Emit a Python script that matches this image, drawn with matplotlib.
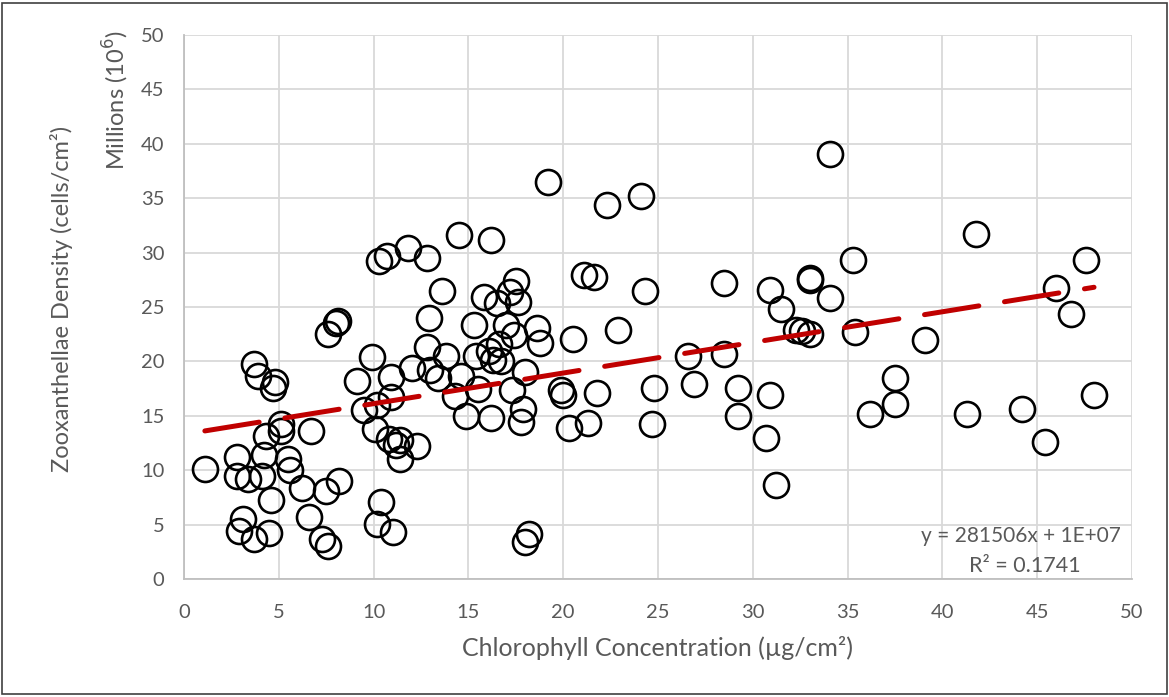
import numpy as np
import matplotlib.pyplot as plt
from matplotlib.patches import Rectangle

# chlorophyll (ug/cm2) and zooxanthellae density (millions of cells/cm2)
chl = [1.1, 2.8, 2.8, 2.9, 3.1, 3.4, 3.7, 3.9, 3.7, 4.1, 4.2, 4.3, 4.5, 4.6, 4.7, 4.8,
       5.1, 5.1, 5.5, 5.6, 6.2, 6.6, 6.7, 7.3, 7.5, 7.6, 7.6, 8.0, 8.1, 8.2, 9.1, 9.5,
       9.9, 10.2, 10.1, 10.3, 10.2, 10.4, 10.7, 10.8, 10.9, 10.9, 11.0, 11.2, 11.4, 11.4,
       11.8, 12.0, 12.3, 12.8, 12.8, 12.9, 13.0, 13.4, 13.6, 13.8, 14.3, 14.5, 14.6, 14.9,
       15.3, 15.4, 15.5, 15.8, 16.2, 16.1, 16.2, 16.3, 16.5, 16.6, 16.7, 17.0, 17.2, 17.3,
       17.4, 17.5, 17.6, 17.8, 17.9, 18.0, 18.0, 18.2, 18.6, 18.8, 19.2, 19.9, 20.0, 20.3,
       20.5, 21.1, 21.3, 21.6, 21.8, 22.3, 22.9, 24.1, 24.3, 24.7, 24.8, 26.6, 26.9, 28.5,
       28.5, 29.2, 29.2, 30.7, 30.9, 30.9, 31.2, 31.5, 32.3, 32.6, 33.0, 33.0, 33.0, 34.1,
       34.1, 35.3, 35.4, 36.2, 37.5, 37.5, 39.1, 41.3, 41.8, 44.2, 45.4, 46.0, 46.8, 47.6,
       48.0]
zoox = [10.1, 11.2, 9.5, 4.4, 5.5, 9.2, 19.8, 18.7, 3.7, 9.5, 11.4, 13.1, 4.2, 7.3, 17.6, 18.1,
        14.2, 13.6, 11.0, 10.0, 8.4, 5.7, 13.6, 3.7, 8.1, 3.0, 22.5, 23.5, 23.7, 9.0, 18.2, 15.5,
        20.4, 16.0, 13.8, 29.2, 5.1, 7.1, 29.7, 12.9, 18.6, 16.7, 4.3, 12.3, 11.0, 12.8,
        30.4, 19.4, 12.2, 29.5, 21.3, 24.0, 19.2, 18.5, 26.5, 20.5, 16.8, 31.6, 18.7, 15.0,
        23.3, 20.5, 17.5, 25.9, 31.2, 21.0, 14.8, 20.1, 25.4, 21.6, 20.0, 23.3, 26.4, 17.4,
        22.4, 27.4, 25.5, 14.4, 15.6, 19.0, 3.4, 4.1, 23.1, 21.7, 36.5, 17.4, 16.9, 13.9,
        22.1, 27.9, 14.3, 27.8, 17.1, 34.4, 22.9, 35.2, 26.5, 14.2, 17.6, 20.5, 17.9, 27.2,
        20.7, 17.6, 15.0, 13.0, 16.9, 26.6, 8.6, 24.8, 22.9, 22.8, 27.7, 27.5, 22.5, 25.8,
        39.1, 29.3, 22.7, 15.2, 16.1, 18.5, 22.0, 15.2, 31.7, 15.6, 12.6, 26.7, 24.4, 29.3,
        16.9]

# linear trend (cells/cm2 per ug/cm2), intercept in cells/cm2
slope = 281506
intercept = 1.33e7
eq_label = "y = 281506x + 1E+07"
r2_label = "R² = 0.1741"

gray = '#595959'
plt.rcParams['font.family'] = ['Lato', 'DejaVu Sans']

fig = plt.figure(figsize=(11.69, 6.97), dpi=100)
ax = fig.add_axes([0.1574, 0.1693, 0.8109, 0.7805])

ax.plot(chl, zoox, 'o', ms=18, mfc='none', mec='black', mew=1.9, zorder=3)

xs = np.array([min(chl), max(chl)])
ax.plot(xs, (slope * xs + intercept) / 1e6, color='#c00000', lw=3.6,
        dashes=(11, 5.2), dash_capstyle='round', solid_capstyle='round', zorder=4)

ax.set_xlim(0, 50)
ax.set_ylim(0, 50)
ax.set_xticks(range(0, 51, 5))
ax.set_yticks(range(0, 51, 5))
ax.grid(True, color='#d9d9d9', lw=1.3)
ax.set_axisbelow(True)
ax.tick_params(length=0, labelsize=14.5, labelcolor=gray, pad=14)
ax.tick_params(axis='x', pad=18)
for s in ['top', 'right']:
    ax.spines[s].set_visible(False)
for s in ['left', 'bottom']:
    ax.spines[s].set_color('#bfbfbf')
    ax.spines[s].set_linewidth(1.3)

ax.set_xlabel('Chlorophyll Concentration (µg/cm²)', fontsize=18, color=gray, labelpad=11)
fig.text(0.053, 0.571, 'Zooxanthellae Density (cells/cm²)', rotation=90,
         ha='center', va='center', fontsize=17, color=gray)
fig.text(0.099, 0.857, 'Millions (10$^6$)', rotation=90,
         ha='center', va='center', fontsize=17, color=gray)

ax.text(0.988, 0.079, eq_label, transform=ax.transAxes, ha='right', va='center',
        fontsize=15, color=gray)
ax.text(0.946, 0.024, r2_label, transform=ax.transAxes, ha='right', va='center',
        fontsize=15.5, color=gray)

fig.patches.append(Rectangle((0.002, 0.004), 0.996, 0.992, transform=fig.transFigure,
                             fill=False, edgecolor='#404040', lw=1.2))

fig.savefig('out.png', dpi=100)
